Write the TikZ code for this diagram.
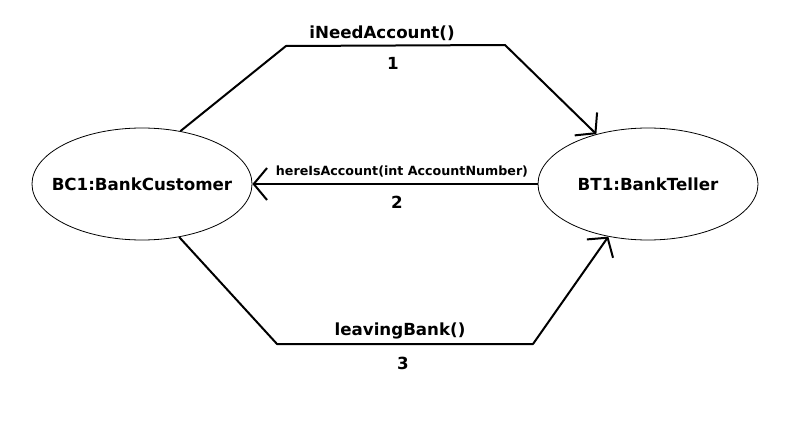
\documentclass[tikz,border=0pt]{standalone}
\usepackage{fontspec}
\setmainfont{DejaVu Sans}
\usetikzlibrary{positioning,shapes.geometric,arrows.meta}

\begin{document}
\begin{tikzpicture}[x=0.75pt,y=-0.75pt,
    obj/.style={draw,ellipse,line width=0.6pt,minimum width=165pt,minimum height=84pt,inner sep=0pt,font=\fontsize{12.5}{14}\selectfont\bfseries},
    msg/.style={line width=1.5pt,-{Straight Barb[length=10pt,width=24pt]}},
    lbl/.style={inner sep=0pt,font=\fontsize{12.5}{14}\selectfont\bfseries},
    smalllbl/.style={inner sep=0pt,font=\fontsize{9.5}{11}\selectfont\bfseries}]
    \useasboundingbox (0,0) rectangle (789,446);
    % objects
    \node[obj](bc1) at (142,184){\makebox[0pt]{BC1:BankCustomer}};
    \node[obj](bt1) at (648,184){\makebox[0pt]{BT1:BankTeller}};
    % message 1
    \coordinate (m1a) at (286,46);
    \coordinate (m1b) at (505,45);
    \draw[msg,line join=round](bc1.54)--(m1a)--(m1b)--(bt1.136);
    \node[lbl](call1) at (382,33){iNeedAccount()};
    \node[lbl](num1) at (393,63){1};
    % message 2
    \draw[msg](bt1.west)--(bc1.east);
    \node[smalllbl](call2) at (402,172){hereIsAccount(int AccountNumber)};
    \node[lbl](num2) at (397,202){2};
    % message 3
    \coordinate (m3a) at (277,344);
    \coordinate (m3b) at (533,344);
    \draw[msg,line join=round](bc1.-55)--(m3a)--(m3b)--(bt1.-127);
    \node[lbl](call3) at (400,331){leavingBank()};
    \node[lbl](num3) at (403,363){3};
\end{tikzpicture}
\end{document}
